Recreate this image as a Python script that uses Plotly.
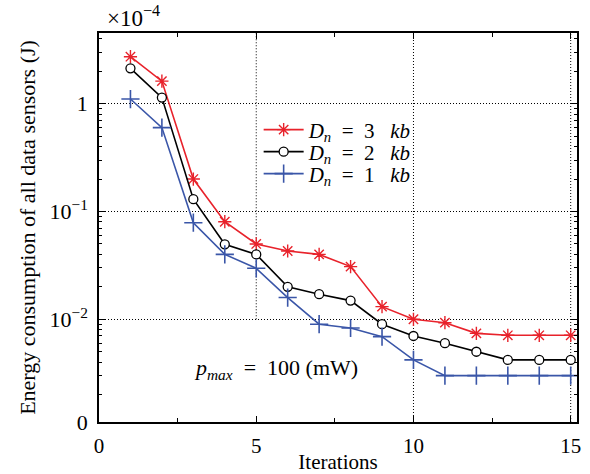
import plotly.graph_objects as go
import math

iterations = list(range(1, 16))
energy_3kb = [2.73, 1.62, 0.200, 0.0804, 0.050, 0.043, 0.040, 0.0308, 0.0131, 0.0100, 0.0093, 0.0074, 0.0071, 0.0071, 0.0071]
energy_2kb = [2.13, 1.14, 0.130, 0.0496, 0.040, 0.020, 0.0171, 0.0149, 0.0090, 0.0070, 0.0060, 0.0050, 0.0042, 0.0042, 0.0042]
energy_1kb = [1.105, 0.60, 0.0787, 0.040, 0.0297, 0.0159, 0.0090, 0.0083, 0.0069, 0.0042, 0.0030, 0.0030, 0.0030, 0.0030, 0.0030]

NB = "\u00a0"
series_names = [f"<i>D</i><sub><i>n</i></sub>{NB}{NB}={NB}{NB}3{NB}{NB}{NB}<i>kb</i>",
                f"<i>D</i><sub><i>n</i></sub>{NB}{NB}={NB}{NB}2{NB}{NB}{NB}<i>kb</i>",
                f"<i>D</i><sub><i>n</i></sub>{NB}{NB}={NB}{NB}1{NB}{NB}{NB}<i>kb</i>"]

y_log_range = [-2.953, 0.656]
y_bottom = 10 ** y_log_range[0]
y_tickvals = [y_bottom, 0.01, 0.1, 1]
y_ticktext = ["0", "10<sup>−2</sup>", "10<sup>−1</sup>", "1"]
x_tickvals = [0, 5, 10, 15]
x_range = [0, 15.2]

FONT = "Liberation Serif"
RED = "#e8222b"
BLUE = "#3a56a8"

fig = go.Figure()
fig.add_trace(go.Scatter(
    x=iterations, y=energy_3kb, name=series_names[0], mode="lines+markers", legend="legend",
    line=dict(color=RED, width=1.6),
    marker=dict(symbol="asterisk-open", size=11, color=RED, line=dict(color=RED, width=1.4))))
fig.add_trace(go.Scatter(
    x=iterations, y=energy_2kb, name=series_names[1], mode="lines+markers", legend="legend2",
    line=dict(color="black", width=1.6),
    marker=dict(symbol="circle", size=9, color="white", line=dict(color="black", width=1.3))))
fig.add_trace(go.Scatter(
    x=iterations, y=energy_1kb, name=series_names[2], mode="lines+markers", legend="legend3",
    line=dict(color=BLUE, width=1.6),
    marker=dict(symbol="cross-thin-open", size=13, color=BLUE, line=dict(color=BLUE, width=1.6))))

# minor ticks for log axis
minor_y = []
for d in range(-3, 1):
    for m in range(2, 10):
        v = m * 10 ** d
        if y_log_range[0] <= math.log10(v) <= y_log_range[1]:
            minor_y.append(v)

DOT = "1px,2px"
frac_001 = (math.log10(0.01) - y_log_range[0]) / (y_log_range[1] - y_log_range[0])
shapes = [
    dict(type="line", xref="x", yref="y domain", x0=5, x1=5, y0=frac_001, y1=1,
         line=dict(color="black", width=1, dash=DOT), layer="below"),
    dict(type="line", xref="x", yref="y domain", x0=10, x1=10, y0=0, y1=1,
         line=dict(color="black", width=1, dash=DOT), layer="below"),
    dict(type="line", xref="x", yref="y domain", x0=15, x1=15, y0=0, y1=1,
         line=dict(color="black", width=1, dash=DOT), layer="below"),
]

def leg(ytop):
    return dict(x=0.334, y=ytop, xanchor="left", yanchor="middle",
                bgcolor="rgba(255,255,255,0)", font=dict(family=FONT, size=21),
                itemwidth=40, borderwidth=0)

H_PLOT = 474 - 33 - 52
def py(pix):
    return (422 - pix) / H_PLOT

fig.update_layout(
    width=590, height=474,
    margin=dict(l=99, r=13, t=33, b=52, autoexpand=False),
    paper_bgcolor="white", plot_bgcolor="white",
    font=dict(family=FONT, size=20, color="black"),
    showlegend=True,
    legend=leg(py(130)), legend2=leg(py(152)), legend3=leg(py(174)),
    shapes=shapes,
    annotations=[
        dict(text="×10<sup>−4</sup>", xref="paper", yref="paper", x=0.0125, y=1.0,
             xanchor="left", yanchor="bottom", showarrow=False,
             font=dict(family=FONT, size=23)),
        dict(text=f"<i>p</i><sub><i>max</i></sub>{NB}{NB}={NB}{NB}100{NB}(mW)", xref="paper", yref="paper",
             x=0.3695, y=py(369), xanchor="center", yanchor="middle", showarrow=False,
             font=dict(family=FONT, size=22)),
    ],
)

fig.update_xaxes(
    range=x_range, tickmode="array", tickvals=x_tickvals, automargin=False,
    showgrid=False, zeroline=False,
    showline=True, linecolor="black", linewidth=1.5, mirror="allticks",
    ticks="inside", ticklen=6, tickcolor="black", ticklabelstandoff=4,
    minor=dict(tickmode="array", tickvals=[2.5, 7.5, 12.5], ticks="inside", ticklen=4, tickcolor="black"),
    tickfont=dict(family=FONT, size=21),
    title=dict(text="Iterations", font=dict(family=FONT, size=21), standoff=2),
)
fig.update_yaxes(
    type="log", range=y_log_range, tickmode="array", tickvals=y_tickvals, ticktext=y_ticktext,
    automargin=False,
    showgrid=True, gridcolor="black", gridwidth=1, griddash=DOT,
    zeroline=False,
    showline=True, linecolor="black", linewidth=1.5, mirror="allticks",
    ticks="inside", ticklen=6, tickcolor="black", ticklabelstandoff=5,
    minor=dict(tickmode="array", tickvals=minor_y, ticks="inside", ticklen=3, tickcolor="black", showgrid=False),
    tickfont=dict(family=FONT, size=22),
    title=dict(text="Energy consumption of all data sensors (J)", font=dict(family=FONT, size=22), standoff=8),
)

fig.write_html("out.html")
